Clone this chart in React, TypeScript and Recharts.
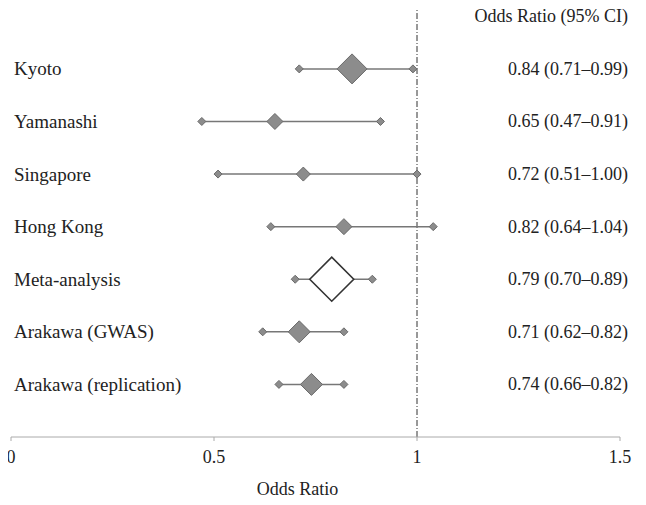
import { ScatterChart, Scatter, XAxis, YAxis, ErrorBar, ReferenceLine } from "recharts";

const studies = [
  "Kyoto",
  "Yamanashi",
  "Singapore",
  "Hong Kong",
  "Meta-analysis",
  "Arakawa (GWAS)",
  "Arakawa (replication)",
];
const oddsRatios = [0.84, 0.65, 0.72, 0.82, 0.79, 0.71, 0.74];
const lowerCI = [0.71, 0.47, 0.51, 0.64, 0.7, 0.62, 0.66];
const upperCI = [0.99, 0.91, 1.0, 1.04, 0.89, 0.82, 0.82];
// relative marker size (study weight)
const weights = [15, 8, 7, 8, 22, 11, 11];
const xTicks = [0, 0.5, 1, 1.5];

const FONT = "'Liberation Serif', 'Times New Roman', serif";
const fmt = (v: number) => v.toFixed(2);

const points = studies.map((name, i) => ({
  name,
  x: oddsRatios[i],
  y: i,
  size: weights[i],
  meta: name === "Meta-analysis",
  err: [oddsRatios[i] - lowerCI[i], upperCI[i] - oddsRatios[i]],
}));

const ends = studies.flatMap((_, i) => [
  { x: lowerCI[i], y: i },
  { x: upperCI[i], y: i },
]);

const leftLabels = studies.map((name, i) => ({ x: 0, y: i, text: name }));
const rightLabels = [
  { x: 1.5, y: -1, text: "Odds Ratio (95% CI)" },
  ...studies.map((_, i) => ({
    x: 1.5,
    y: i,
    text: `${fmt(oddsRatios[i])} (${fmt(lowerCI[i])}\u2013${fmt(upperCI[i])})`,
  })),
];

const diamond = (cx: number, cy: number, r: number) =>
  `${cx - r},${cy} ${cx},${cy - r} ${cx + r},${cy} ${cx},${cy + r}`;

const MainMarker = (props: any) => {
  const { cx, cy, payload } = props;
  if (payload.meta) {
    return (
      <polygon points={diamond(cx, cy, payload.size)} fill="#fff" stroke="#333" strokeWidth={1.6} />
    );
  }
  return (
    <polygon points={diamond(cx, cy, payload.size)} fill="#8c8c8c" stroke="#6a6a6a" strokeWidth={1} />
  );
};

const EndMarker = (props: any) => (
  <polygon points={diamond(props.cx, props.cy, 4)} fill="#8c8c8c" stroke="#6a6a6a" strokeWidth={1} />
);

const LeftText = (props: any) => (
  <text x={props.cx + 3} y={props.cy} dominantBaseline="central" fontSize={19} fontFamily={FONT} fill="#222">
    {props.payload.text}
  </text>
);

const RightText = (props: any) => (
  <text x={props.cx + 8} y={props.cy} dominantBaseline="central" textAnchor="end" fontSize={18} fontFamily={FONT} fill="#222">
    {props.payload.text}
  </text>
);

export default function App() {
  return (
    <div style={{ margin: -8, background: "#fff", fontFamily: FONT }}>
      <ScatterChart width={646} height={505} margin={{ top: 0, right: 26, left: 11, bottom: 0 }}>
        <XAxis
          type="number"
          dataKey="x"
          domain={[0, 1.5]}
          ticks={xTicks}
          tickFormatter={(v: number) => String(v)}
          height={68}
          stroke="#aaa"
          tickSize={4}
          tickMargin={9}
          tick={{ fill: "#222", fontSize: 18, fontFamily: FONT }}
          label={{ value: "Odds Ratio", position: "insideBottom", offset: 10, dx: -18, fill: "#222", fontSize: 18, fontFamily: FONT }}
        />
        <YAxis type="number" dataKey="y" domain={[-1.31, 7]} reversed hide />
        <ReferenceLine x={1} stroke="#333" strokeWidth={1} strokeDasharray="6 2 1 2" />
        <Scatter data={ends} shape={<EndMarker />} isAnimationActive={false} />
        <Scatter data={points} shape={<MainMarker />} isAnimationActive={false}>
          <ErrorBar dataKey="err" direction="x" width={0} stroke="#777" strokeWidth={1.5} />
        </Scatter>
        <Scatter data={leftLabels} shape={<LeftText />} isAnimationActive={false} />
        <Scatter data={rightLabels} shape={<RightText />} isAnimationActive={false} />
      </ScatterChart>
    </div>
  );
}
